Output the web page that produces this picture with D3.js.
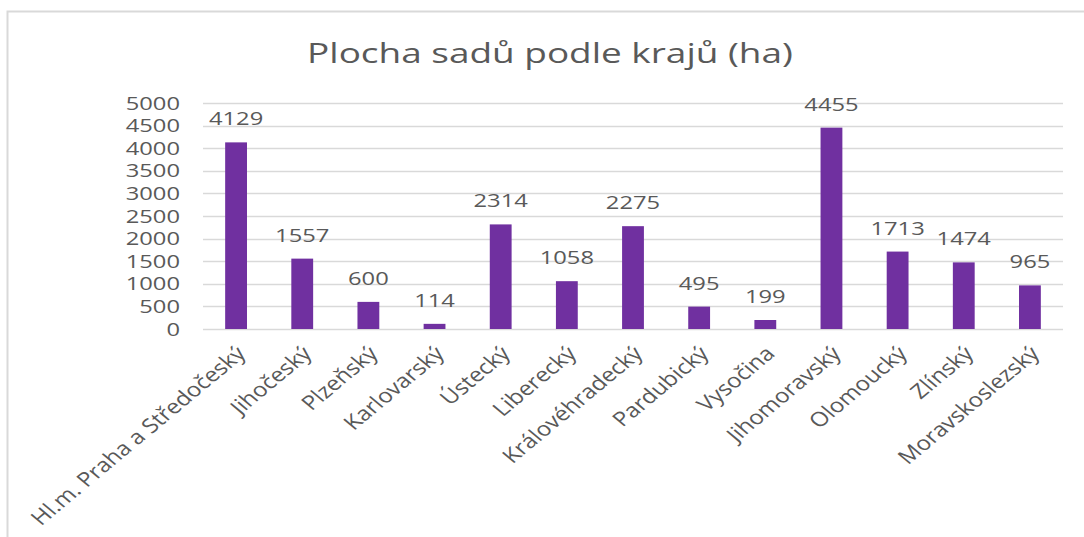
<!DOCTYPE html>
<html>
<head>
<meta charset="utf-8">
<script src="https://cdn.jsdelivr.net/npm/d3@7"></script>
<style>
  body { margin: 0; background: #fff; }
  text { font-family: "Open Sans", sans-serif; fill: #595959; }
</style>
</head>
<body>
<div id="chart"></div>
<script>
// data
var regions = ["Hl.m. Praha a Středočeský", "Jihočeský", "Plzeňský", "Karlovarský",
  "Ústecký", "Liberecký", "Královéhradecký", "Pardubický", "Vysočina",
  "Jihomoravský", "Olomoucký", "Zlínský", "Moravskoslezský"];
var area = [4129, 1557, 600, 114, 2314, 1058, 2275, 495, 199, 4455, 1713, 1474, 965];
var yTicks = [0, 500, 1000, 1500, 2000, 2500, 3000, 3500, 4000, 4500, 5000];
var title = "Plocha sadů podle krajů (ha)";

var svgWidth = 1084;
var svgHeight = 537;
// the source picture is stretched sideways, so text gets a horizontal scale
var sx = 1.32;
var sxRot = 1.2;

var svg = d3.select("#chart").append("svg")
  .attr("width", svgWidth)
  .attr("height", svgHeight);

// frame (only top and left edges visible)
svg.append("rect")
  .attr("x", 7.5).attr("y", 11.5)
  .attr("width", 1200).attr("height", 600)
  .attr("fill", "none")
  .attr("stroke", "#d9d9d9")
  .attr("stroke-width", 2);

var xScale = d3.scaleBand()
  .domain(regions)
  .range([203, 1063])
  .paddingInner(0.67)
  .paddingOuter(0.335);

var yScale = d3.scaleLinear()
  .domain([0, 5000])
  .range([329, 103]);

// gridlines
svg.append("g")
  .selectAll("line")
  .data(yTicks)
  .enter()
  .append("line")
  .attr("x1", 203).attr("x2", 1063)
  .attr("y1", d => Math.round(yScale(d)) + 0.5)
  .attr("y2", d => Math.round(yScale(d)) + 0.5)
  .attr("stroke", "#d9d9d9")
  .attr("stroke-width", 1.3);

// y tick labels
svg.append("g")
  .selectAll("text")
  .data(yTicks)
  .enter()
  .append("text")
  .attr("transform", d => `translate(180, ${yScale(d) + 6.5}) scale(${sx}, 1)`)
  .attr("text-anchor", "end")
  .style("font-size", "18px")
  .text(d => d);

// bars
svg.append("g")
  .selectAll("rect")
  .data(area)
  .enter()
  .append("rect")
  .attr("x", (d, i) => xScale(regions[i]))
  .attr("y", d => yScale(d))
  .attr("width", xScale.bandwidth())
  .attr("height", d => yScale(0) - yScale(d))
  .attr("fill", "#7030a0");

// value labels
svg.append("g")
  .selectAll("text")
  .data(area)
  .enter()
  .append("text")
  .attr("transform", (d, i) =>
    `translate(${xScale(regions[i]) + xScale.bandwidth() / 2}, ${yScale(d) - 17}) scale(${sx}, 1)`)
  .attr("text-anchor", "middle")
  .style("font-size", "18px")
  .text(d => d);

// category labels, rotated
svg.append("g")
  .selectAll("text")
  .data(regions)
  .enter()
  .append("text")
  .attr("transform", d =>
    `translate(${xScale(d) + xScale.bandwidth() / 2 - 1}, 345) scale(${sxRot}, 1) rotate(-45)`)
  .attr("text-anchor", "end")
  .attr("dy", "0.7em")
  .style("font-size", "20px")
  .text(d => d);

// title
svg.append("text")
  .attr("transform", `translate(550, 63) scale(${sx}, 1)`)
  .attr("text-anchor", "middle")
  .style("font-size", "28px")
  .text(title);
</script>
</body>
</html>
